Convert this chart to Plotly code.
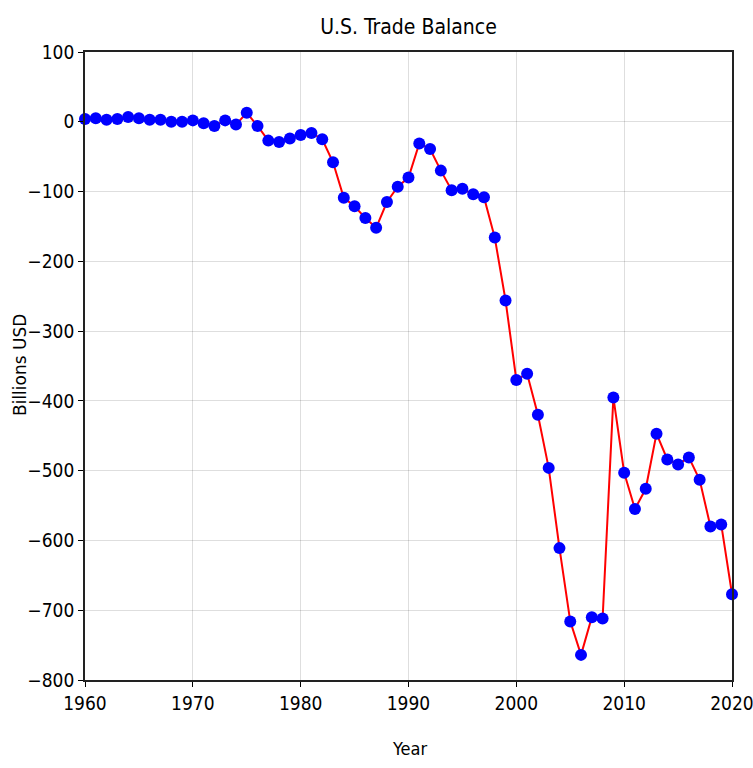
import plotly.graph_objects as go

years = list(range(1960, 2021))
balance = [4, 5, 3, 4, 7, 5, 3, 3, 0, 0,
           2, -2, -6, 2, -4, 13, -6, -27, -29, -24,
           -19, -16, -25, -58, -109, -121, -138, -152, -115, -93,
           -80, -31, -39, -70, -98, -96, -104, -108, -166, -256,
           -370, -361, -420, -496, -611, -716, -764, -710, -712, -395,
           -503, -555, -526, -447, -484, -491, -481, -513, -580, -577,
           -677]

title_text = "U.S. Trade Balance"
x_title = "Year"
y_title = "Billions USD"
x_ticks = [1960, 1970, 1980, 1990, 2000, 2010, 2020]
y_ticks = [100, 0, -100, -200, -300, -400, -500, -600, -700, -800]

narrow = "DejaVu Sans Condensed, Liberation Sans Narrow, sans-serif"

fig = go.Figure()
fig.add_trace(go.Scatter(
    x=years, y=balance, mode="lines+markers",
    line=dict(color="red", width=2),
    marker=dict(color="blue", size=12, line=dict(width=0)),
    cliponaxis=False,
))

L, R, T, B = 85, 21, 52, 88
W, H = 753, 768
plot_w = W - L - R

fig.update_layout(
    width=W, height=H,
    margin=dict(l=L, r=R, t=T, b=B, autoexpand=False),
    paper_bgcolor="white", plot_bgcolor="white",
    showlegend=False,
    title=dict(text=title_text, x=408.5 / W, xanchor="center", xref="container",
               y=1 - 27 / H, yref="container", yanchor="middle",
               font=dict(family=narrow, size=21, color="black")),
)

fig.add_annotation(
    text=y_title, textangle=-90,
    xref="paper", yref="paper", x=(20 - L) / plot_w, y=(768 - 365 - B) / (H - T - B),
    xanchor="center", yanchor="middle", showarrow=False,
    font=dict(family="DejaVu Sans", size=17, color="black"),
)
fig.add_annotation(
    text=x_title,
    xref="paper", yref="paper", x=(409 - L) / plot_w, y=(B - (748 - (H - B))) / (H - T - B) - 1 + 1 - (748 - (H - B) + 0) / (H - T - B) * 0,
    xanchor="center", yanchor="middle", showarrow=False,
    font=dict(family=narrow, size=18, color="black"),
)

axis_common = dict(
    showgrid=True, gridcolor="rgba(0,0,0,0.13)", gridwidth=1,
    showline=True, linecolor="#222222", linewidth=1.8, mirror=True,
    ticks="outside", ticklen=5, tickcolor="black", tickwidth=1,
    zeroline=False, automargin=False, ticklabeloverflow="allow",
    tickfont=dict(family=narrow, size=19, color="black"),
)

fig.update_xaxes(
    range=[1960, 2020], tickvals=x_ticks, ticktext=[str(t) for t in x_ticks],
    **axis_common,
)
fig.update_yaxes(
    range=[-800, 100], tickvals=y_ticks,
    ticktext=[("\u2212" + str(abs(t))) if t < 0 else str(t) for t in y_ticks],
    **axis_common,
)

# place the x-axis title 68 px below the plot's bottom edge
fig.layout.annotations[1].y = -(748 - (H - B)) / (H - T - B)

fig.write_html("out.html", config={"displayModeBar": False},
               post_script="document.body.style.margin='0';")
